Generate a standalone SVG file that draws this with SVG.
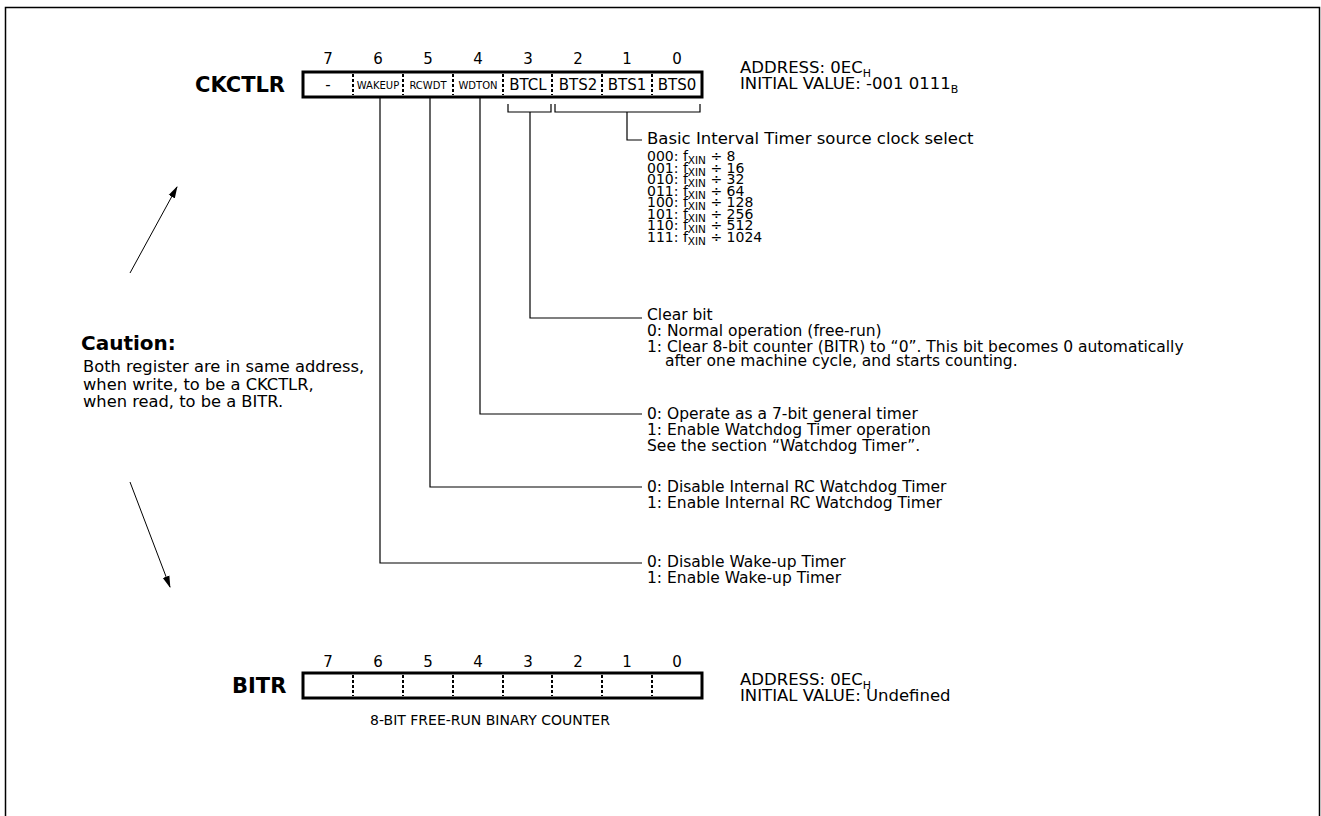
<svg xmlns="http://www.w3.org/2000/svg" width="1321" height="816" viewBox="0 0 1321 816">
<style>
text { font-family: "DejaVu Sans", "Liberation Sans", Arial, sans-serif; fill: #000; }
.t { font-size: 15.5px; }
.c { font-size: 16.3px; }
.hd { font-size: 16.5px; }
.ad { font-size: 16.5px; }
.li { font-size: 14px; }
.num { font-size: 15px; text-anchor: middle; }
.lbl { font-size: 21px; font-weight: bold; }
.cell { font-size: 15px; text-anchor: middle; }
.cs { font-size: 10px; text-anchor: middle; }
.sub { font-size: 11px; }
.lsub { font-size: 10.5px; }
.box { fill: none; stroke: #000; stroke-width: 3; }
.div { stroke: #000; stroke-width: 2; stroke-dasharray: 3 2; }
.ln { fill: none; stroke: #000; stroke-width: 1.2; }
.arr { fill: none; stroke: #000; stroke-width: 1; marker-end: url(#ah); }
.frame { fill: none; stroke: #000; stroke-width: 1.5; }
</style>
<defs>
<marker id="ah" markerWidth="12" markerHeight="8" refX="11" refY="4" orient="auto" markerUnits="userSpaceOnUse">
<path d="M0,0.5 L12,4 L0,7.5 z" fill="#000"/>
</marker>
</defs>
<rect class="frame" x="5.5" y="7.5" width="1314" height="830"/>

<g id="ckctlr">
<text class="lbl" x="195" y="92">CKCTLR</text>
<text class="num" x="328" y="64">7</text>
<text class="num" x="378" y="64">6</text>
<text class="num" x="428" y="64">5</text>
<text class="num" x="478" y="64">4</text>
<text class="num" x="528" y="64">3</text>
<text class="num" x="578" y="64">2</text>
<text class="num" x="627" y="64">1</text>
<text class="num" x="677" y="64">0</text>
<rect class="box" x="303" y="72" width="399" height="25"/>
<line class="div" x1="353" y1="74" x2="353" y2="95"/>
<line class="div" x1="403" y1="74" x2="403" y2="95"/>
<line class="div" x1="453" y1="74" x2="453" y2="95"/>
<line class="div" x1="503" y1="74" x2="503" y2="95"/>
<line class="div" x1="552" y1="74" x2="552" y2="95"/>
<line class="div" x1="602" y1="74" x2="602" y2="95"/>
<line class="div" x1="652" y1="74" x2="652" y2="95"/>
<text class="cell" x="328" y="90">-</text>
<text class="cs" x="378" y="89">WAKEUP</text>
<text class="cs" x="428" y="89">RCWDT</text>
<text class="cs" x="478" y="89">WDTON</text>
<text class="cell" x="528" y="90">BTCL</text>
<text class="cell" x="578" y="90">BTS2</text>
<text class="cell" x="627" y="90">BTS1</text>
<text class="cell" x="677" y="90">BTS0</text>
<text class="ad" x="740" y="73">ADDRESS: 0EC<tspan class="sub" dy="4">H</tspan></text>
<text class="ad" x="740" y="89">INITIAL VALUE: -001 0111<tspan class="sub" dy="4">B</tspan></text>
</g>

<g id="bts-desc">
<text class="hd" x="647" y="144">Basic Interval Timer source clock select</text>
<text class="li" x="647" y="161">000: f<tspan class="lsub" dy="3">XIN</tspan><tspan dy="-3"> ÷ 8</tspan></text>
<text class="li" x="647" y="172.5">001: f<tspan class="lsub" dy="3">XIN</tspan><tspan dy="-3"> ÷ 16</tspan></text>
<text class="li" x="647" y="184">010: f<tspan class="lsub" dy="3">XIN</tspan><tspan dy="-3"> ÷ 32</tspan></text>
<text class="li" x="647" y="195.5">011: f<tspan class="lsub" dy="3">XIN</tspan><tspan dy="-3"> ÷ 64</tspan></text>
<text class="li" x="647" y="207">100: f<tspan class="lsub" dy="3">XIN</tspan><tspan dy="-3"> ÷ 128</tspan></text>
<text class="li" x="647" y="218.5">101: f<tspan class="lsub" dy="3">XIN</tspan><tspan dy="-3"> ÷ 256</tspan></text>
<text class="li" x="647" y="230">110: f<tspan class="lsub" dy="3">XIN</tspan><tspan dy="-3"> ÷ 512</tspan></text>
<text class="li" x="647" y="241.5">111: f<tspan class="lsub" dy="3">XIN</tspan><tspan dy="-3"> ÷ 1024</tspan></text>
</g>

<g id="btcl-desc">
<text class="t" x="647" y="320">Clear bit</text>
<text class="t" x="647" y="336">0: Normal operation (free-run)</text>
<text class="t" x="647" y="352">1: Clear 8-bit counter (BITR) to “0”. This bit becomes 0 automatically</text>
<text class="t" x="665" y="366">after one machine cycle, and starts counting.</text>
</g>

<g id="wdton-desc">
<text class="t" x="647" y="419">0: Operate as a 7-bit general timer</text>
<text class="t" x="647" y="435">1: Enable Watchdog Timer operation</text>
<text class="t" x="647" y="451">See the section “Watchdog Timer”.</text>
</g>

<g id="rcwdt-desc">
<text class="t" x="647" y="492">0: Disable Internal RC Watchdog Timer</text>
<text class="t" x="647" y="508">1: Enable Internal RC Watchdog Timer</text>
</g>

<g id="wakeup-desc">
<text class="t" x="647" y="567">0: Disable Wake-up Timer</text>
<text class="t" x="647" y="583">1: Enable Wake-up Timer</text>
</g>

<g id="caution">
<text x="81" y="350" style="font-size:20px;font-weight:bold">Caution:</text>
<text class="c" x="83" y="372">Both register are in same address,</text>
<text class="c" x="83" y="390">when write, to be a CKCTLR,</text>
<text class="c" x="83" y="407">when read, to be a BITR.</text>
</g>

<g id="bitr">
<text class="lbl" x="232" y="693">BITR</text>
<text class="num" x="328" y="667">7</text>
<text class="num" x="378" y="667">6</text>
<text class="num" x="428" y="667">5</text>
<text class="num" x="478" y="667">4</text>
<text class="num" x="528" y="667">3</text>
<text class="num" x="578" y="667">2</text>
<text class="num" x="627" y="667">1</text>
<text class="num" x="677" y="667">0</text>
<rect class="box" x="303" y="673" width="399" height="25"/>
<line class="div" x1="353" y1="675" x2="353" y2="696"/>
<line class="div" x1="403" y1="675" x2="403" y2="696"/>
<line class="div" x1="453" y1="675" x2="453" y2="696"/>
<line class="div" x1="503" y1="675" x2="503" y2="696"/>
<line class="div" x1="552" y1="675" x2="552" y2="696"/>
<line class="div" x1="602" y1="675" x2="602" y2="696"/>
<line class="div" x1="652" y1="675" x2="652" y2="696"/>
<text x="490" y="725" text-anchor="middle" style="font-size:14px">8-BIT FREE-RUN BINARY COUNTER</text>
<text class="ad" x="740" y="685">ADDRESS: 0EC<tspan class="sub" dy="4">H</tspan></text>
<text class="ad" x="740" y="701">INITIAL VALUE: Undefined</text>
</g>

<g id="connectors">
<path class="ln" d="M508,104 V112 H551 V104"/>
<path class="ln" d="M555,104 V112 H700 V104"/>
<path class="ln" d="M627,112 V140 H642"/>
<path class="ln" d="M530,112 V318 H642"/>
<path class="ln" d="M480,97 V414 H642"/>
<path class="ln" d="M430,97 V487 H642"/>
<path class="ln" d="M380,97 V563 H642"/>
<line class="arr" x1="130" y1="273" x2="177" y2="187"/>
<line class="arr" x1="130" y1="482" x2="170" y2="587"/>
</g>
</svg>
